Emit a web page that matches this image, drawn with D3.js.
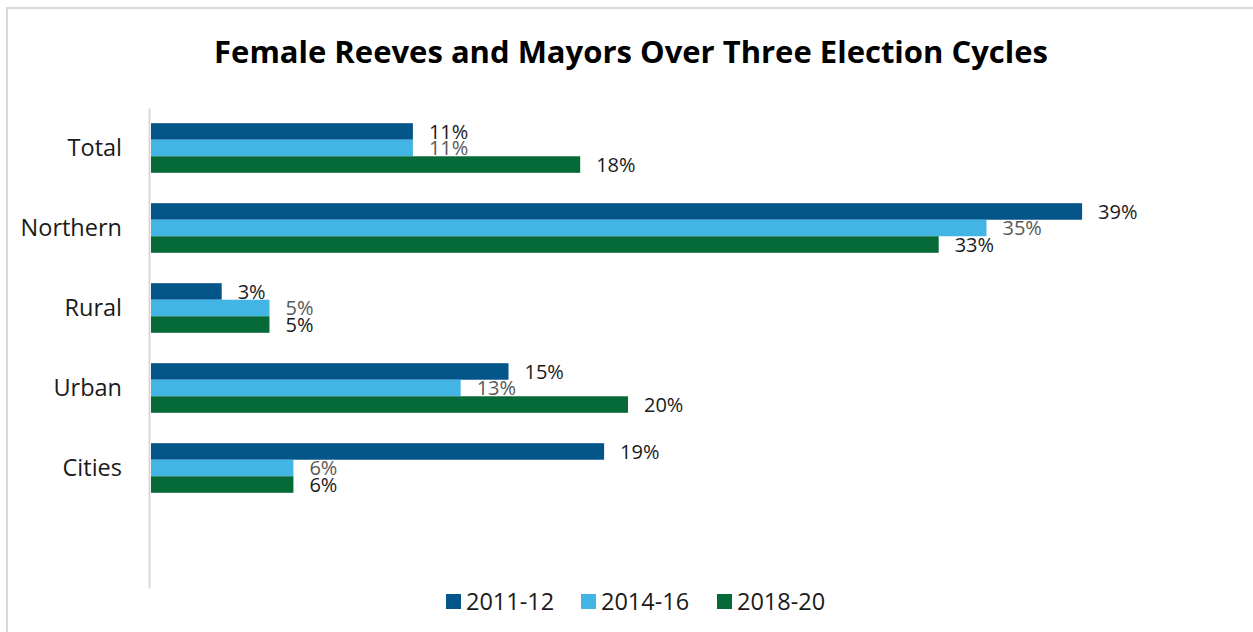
<!DOCTYPE html>
<html>
<head>
<meta charset="utf-8">
<script src="https://cdn.jsdelivr.net/npm/d3@7"></script>
<style>
  html, body { margin: 0; padding: 0; background: #fff; }
  svg { display: block; }
  text { font-family: "Open Sans", "Liberation Sans", sans-serif; }
</style>
</head>
<body>
<svg id="chart" width="1253" height="632"></svg>
<script>
// Share of reeves and mayors who are women, by municipality type
const categories = ["Total", "Northern", "Rural", "Urban", "Cities", ""];
const seriesNames = ["2011-12", "2014-16", "2018-20"];
const values2011 = [11, 39, 3, 15, 19];
const values2014 = [11, 35, 5, 13, 6];
const values2018 = [18, 33, 5, 20, 6];
const seriesColors = ["#03558a", "#42b5e5", "#066a38"];
const labelColors = ["#1a1a1a", "#595959", "#1a1a1a"];

const seriesValues = [values2011, values2014, values2018];
const rows = [];
seriesValues.forEach((vals, si) => {
  vals.forEach((v, ci) => rows.push({ cat: categories[ci], series: seriesNames[si], si, value: v }));
});

const svg = d3.select("#chart");

// outer frame
svg.append("rect")
  .attr("x", 7).attr("y", 8)
  .attr("width", 1300).attr("height", 700)
  .attr("fill", "none")
  .attr("stroke", "#d9d9d9")
  .attr("stroke-width", 2);

svg.append("text")
  .attr("x", 631).attr("y", 63)
  .attr("text-anchor", "middle")
  .attr("font-size", 31)
  .attr("font-weight", 700)
  .attr("fill", "#000")
  .text("Female Reeves and Mayors Over Three Election Cycles");

const x = d3.scaleLinear().domain([0, 45]).range([150, 150 + 45 * 23.9]);
const y = d3.scaleBand().domain(categories).range([108, 588]).paddingInner(0.38).paddingOuter(0.19);
const ySub = d3.scaleBand().domain(seriesNames).range([0, y.bandwidth()]);

// category axis
const yAxis = svg.append("g")
  .attr("transform", "translate(149,0)")
  .call(d3.axisLeft(y).tickSize(0).tickPadding(27));
yAxis.select(".domain").attr("stroke", "#d9d9d9").attr("stroke-width", 2);
yAxis.selectAll("text")
  .attr("font-family", "'Open Sans', sans-serif")
  .attr("font-size", 23.5)
  .attr("fill", "#1a1a1a");

const bars = svg.append("g");
bars.selectAll("rect")
  .data(rows)
  .join("rect")
  .attr("x", x(0) + 1)
  .attr("y", d => y(d.cat) + ySub(d.series))
  .attr("width", d => x(d.value) - x(0) - 1)
  .attr("height", ySub.bandwidth())
  .attr("fill", d => seriesColors[d.si]);

const fmt = v => d3.format(".0f")(v) + "%";
svg.append("g").selectAll("text")
  .data(rows)
  .join("text")
  .attr("x", d => x(d.value) + 16)
  .attr("y", d => y(d.cat) + ySub(d.series) + ySub.bandwidth() / 2)
  .attr("dy", "0.36em")
  .attr("font-size", 20)
  .attr("fill", d => labelColors[d.si])
  .text(d => fmt(d.value));

// legend
const legendX = [446, 581, 717];
const legend = svg.append("g").selectAll("g")
  .data(seriesNames)
  .join("g")
  .attr("transform", (d, i) => `translate(${legendX[i]},594)`);
legend.append("rect")
  .attr("width", 15).attr("height", 15)
  .attr("fill", (d, i) => seriesColors[i]);
legend.append("text")
  .attr("x", 20).attr("y", 16)
  .attr("font-size", 23.5)
  .attr("fill", "#1a1a1a")
  .text(d => d);
</script>
</body>
</html>
